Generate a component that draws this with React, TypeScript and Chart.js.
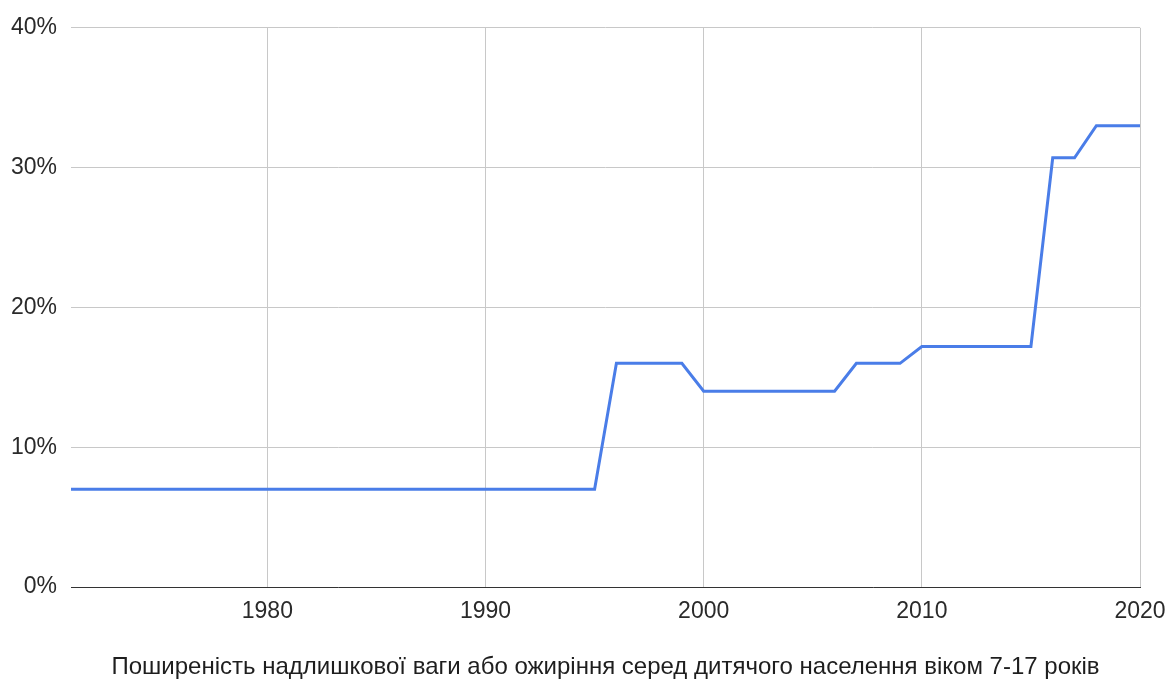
import React, { useEffect, useRef } from "react";
import { Chart, registerables } from "chart.js";

Chart.register(...registerables);

const years: number[] = [
  1971, 1972, 1973, 1974, 1975, 1976, 1977, 1978, 1979, 1980,
  1981, 1982, 1983, 1984, 1985, 1986, 1987, 1988, 1989, 1990,
  1991, 1992, 1993, 1994, 1995, 1996, 1997, 1998, 1999, 2000,
  2001, 2002, 2003, 2004, 2005, 2006, 2007, 2008, 2009, 2010,
  2011, 2012, 2013, 2014, 2015, 2016, 2017, 2018, 2019, 2020,
];

const prevalence: number[] = [
  7, 7, 7, 7, 7, 7, 7, 7, 7, 7,
  7, 7, 7, 7, 7, 7, 7, 7, 7, 7,
  7, 7, 7, 7, 7, 16, 16, 16, 16, 14,
  14, 14, 14, 14, 14, 14, 16, 16, 16, 17.2,
  17.2, 17.2, 17.2, 17.2, 17.2, 30.7, 30.7, 33, 33, 33,
];

const xTicks: number[] = [1980, 1990, 2000, 2010, 2020];
const yTicks: number[] = [0, 10, 20, 30, 40];
const xTitle = "Поширеність надлишкової ваги або ожиріння серед дитячого населення віком 7-17 років";

export default function App() {
  const ref = useRef<HTMLCanvasElement | null>(null);

  useEffect(() => {
    document.body.style.margin = "0";
    const ctx = ref.current;
    if (!ctx) return;
    const family = "'Liberation Sans', Arial, sans-serif";
    const tickFont = { family, size: 23 };
    const titleFont = { family, size: 24 };
    const chart = new Chart(ctx, {
      type: "line",
      data: {
        datasets: [
          {
            data: years.map((y, i) => ({ x: y, y: prevalence[i] })),
            borderColor: "#4a7de8",
            borderWidth: 3,
            pointRadius: 0,
            tension: 0,
            fill: false,
          },
        ],
      },
      options: {
        animation: false,
        responsive: false,
        maintainAspectRatio: false,
        layout: { padding: { top: 26, right: 30, bottom: 0, left: 0 } },
        plugins: { legend: { display: false }, tooltip: { enabled: false } },
        scales: {
          x: {
            type: "linear",
            min: 1971,
            max: 2020,
            afterBuildTicks: (axis: any) => {
              axis.ticks = xTicks.map((v) => ({ value: v }));
            },
            afterFit: (axis: any) => {
              axis.height = 99;
              axis.paddingRight = 0;
              axis.paddingLeft = 0;
            },
            grid: { color: "#c8c8c8", lineWidth: 1, drawTicks: false },
            border: { display: true, color: "#333333", width: 1 },
            ticks: {
              font: tickFont,
              color: "#2a2a2a",
              padding: 11,
              maxRotation: 0,
              autoSkip: false,
              callback: (v: any) => String(v),
            },
            title: {
              display: true,
              text: xTitle,
              font: titleFont,
              color: "#1e1e1e",
              padding: { top: 0, bottom: 4 },
            },
          },
          y: {
            type: "linear",
            min: 0,
            max: 40,
            afterBuildTicks: (axis: any) => {
              axis.ticks = yTicks.map((v) => ({ value: v }));
            },
            afterFit: (axis: any) => {
              axis.width = 71;
            },
            grid: { color: "#c8c8c8", lineWidth: 1, drawTicks: false },
            border: { display: false },
            ticks: {
              font: tickFont,
              color: "#2a2a2a",
              padding: 14,
              callback: (v: any) => v + "%",
            },
          },
        },
      },
    });
    return () => chart.destroy();
  }, []);

  return (
    <div style={{ position: "absolute", left: 0, top: 0, width: 1170, height: 686, background: "#fff" }}>
      <canvas ref={ref} width={1170} height={686} style={{ width: 1170, height: 686 }} />
    </div>
  );
}
